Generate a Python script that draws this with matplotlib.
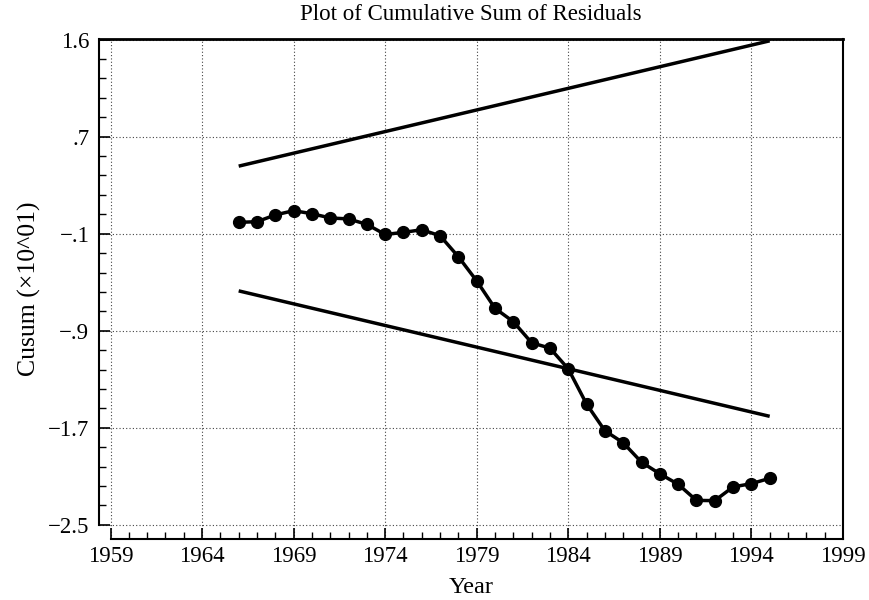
import numpy as np
import matplotlib
matplotlib.use('Agg')
import matplotlib.pyplot as plt
from matplotlib.ticker import FixedLocator, MultipleLocator

# cusum of residuals
years = list(range(1966, 1996))
cusum = [-0.006, -0.001, 0.055, 0.09, 0.065, 0.03, 0.022, -0.023, -0.106, -0.089,
         -0.067, -0.117, -0.29, -0.489, -0.715, -0.825, -0.999, -1.043, -1.214, -1.504,
         -1.724, -1.823, -1.983, -2.079, -2.165, -2.298, -2.30, -2.187, -2.16, -2.116]

# 5% significance bounds (straight lines)
bound_years = [1966, 1995]
upper_bound = [0.457, 1.49]
lower_bound = [-0.571, -1.605]

xticks = list(range(1959, 2000, 5))
yticks = [-2.5, -1.7, -0.9, -0.1, 0.7, 1.5]
ytick_labels = ['\u22122.5', '\u22121.7', '\u2212.9', '\u2212.1', '.7', '1.6']

plt.rcParams['font.family'] = ['Liberation Serif', 'DejaVu Serif']

fig = plt.figure(figsize=(8.69, 6.0), dpi=100)
ax = fig.add_axes([0.1139, 0.1017, 0.8561, 0.8333])

ax.plot(bound_years, upper_bound, color='black', lw=2.5, solid_capstyle='butt')
ax.plot(bound_years, lower_bound, color='black', lw=2.5, solid_capstyle='butt')
ax.plot(years, cusum, color='black', lw=2.5, marker='o', markersize=8.5,
        markerfacecolor='black', markeredgecolor='black')

ax.set_xlim(1958.37, 1999)
ax.set_ylim(-2.616, 1.505)

ax.xaxis.set_major_locator(FixedLocator(xticks))
ax.xaxis.set_minor_locator(MultipleLocator(1))
ax.yaxis.set_major_locator(FixedLocator(yticks))
ax.yaxis.set_minor_locator(FixedLocator(np.arange(-2.5, 1.51, 0.16)))
ax.set_yticklabels(ytick_labels)

ax.tick_params(which='both', direction='in', top=False, right=False, labelsize=16.5, color='black')
ax.tick_params(which='major', length=8, width=1.2)
ax.tick_params(which='minor', length=5, width=1.0)
ax.tick_params(axis='x', pad=5)
ax.tick_params(axis='y', pad=7)

ax.grid(True, which='major', linestyle=(0, (1, 2)), color='#444444', lw=0.8)

for s in ax.spines.values():
    s.set_color('black')
    s.set_linewidth(1.5)
ax.spines['top'].set_linewidth(2.0)
ax.spines['left'].set_bounds(-2.5, 1.505)
ax.spines['bottom'].set_bounds(1959, 1999)

ax.set_title('Plot of Cumulative Sum of Residuals', fontsize=16.5, pad=14)
ax.set_xlabel('Year', fontsize=17.5, labelpad=7)
ax.set_ylabel('Cusum (\u00d710^01)', fontsize=18.5, labelpad=5)

fig.savefig('out.png', dpi=100)
